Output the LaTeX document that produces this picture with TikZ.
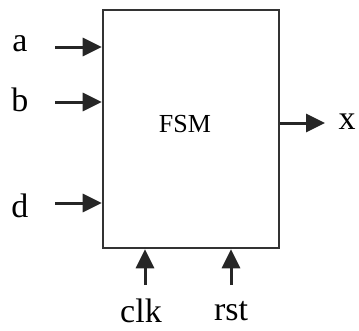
\documentclass[tikz,border=0pt]{standalone}
\usepackage{fontspec}
\setmainfont{Liberation Serif}
\usetikzlibrary{arrows.meta}
\begin{document}
\begin{tikzpicture}[x=1pt,y=-1pt,
  lbl/.style={font=\fontsize{34}{40}\selectfont, inner sep=0pt},
  sig/.style={line width=3pt, -{Triangle[length=19pt,width=18pt]}, draw=black!85},
  boxst/.style={draw=black!80, line width=2.6pt, inner sep=0pt}]
\useasboundingbox (0,0) rectangle (359,330);
\node[boxst, minimum width=176pt, minimum height=238pt] (fsm) at (191,129) {};
\node[font=\fontsize{26}{30}\selectfont] (fsmt) at (185,124) {FSM};
\node[lbl] (a) at (20,44) {a};
\node[lbl] (b) at (20,100) {b};
\node[lbl] (d) at (20,206) {d};
\node[lbl] (x) at (347,122) {x};
\node[lbl] (clk) at (141,311) {clk};
\node[lbl] (rst) at (231,311) {rst};
\coordinate (as) at (55,47); \coordinate (ae) at (fsm.west |- as);
\coordinate (bs) at (55,102); \coordinate (be) at (fsm.west |- bs);
\coordinate (ds) at (55,203); \coordinate (de) at (fsm.west |- ds);
\coordinate (xs) at (fsm.east |- 0,123); \coordinate (xe) at (325,123);
\coordinate (cs) at (145,285); \coordinate (ce) at (cs |- fsm.south);
\coordinate (rs) at (231,285); \coordinate (re) at (rs |- fsm.south);
\draw[sig] (as) -- (ae);
\draw[sig] (bs) -- (be);
\draw[sig] (ds) -- (de);
\draw[sig] (xs) -- (xe);
\draw[sig] (cs) -- (ce);
\draw[sig] (rs) -- (re);
\end{tikzpicture}
\end{document}
